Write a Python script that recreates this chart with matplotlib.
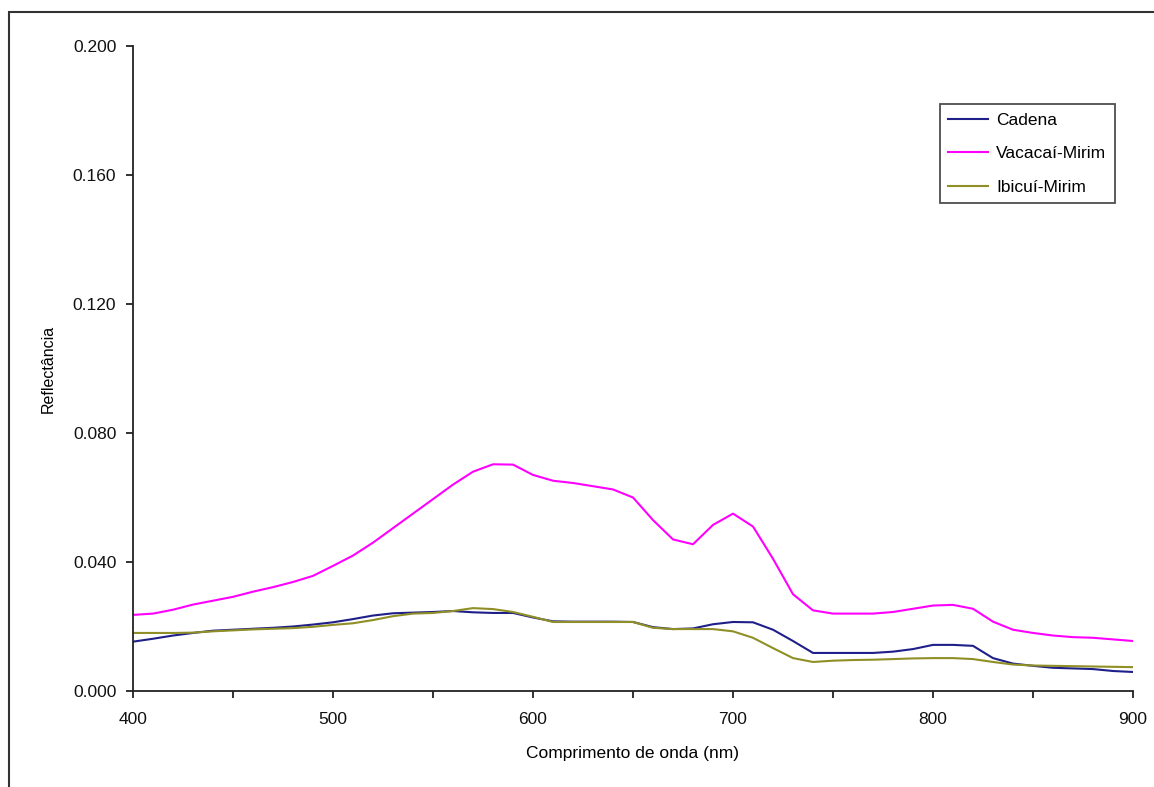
import matplotlib
matplotlib.use("Agg")
import matplotlib.pyplot as plt
from matplotlib.patches import Rectangle

wavelength = [400, 410, 420, 430, 440, 450, 460, 470, 480, 490,
              500, 510, 520, 530, 540, 550, 560, 570, 580, 590,
              600, 610, 620, 630, 640, 650, 660, 670, 680, 690,
              700, 710, 720, 730, 740, 750, 760, 770, 780, 790,
              800, 810, 820, 830, 840, 850, 860, 870, 880, 890, 900]

cadena = [0.0153, 0.0162, 0.0172, 0.0180, 0.0187, 0.0190, 0.0193, 0.0196, 0.0200, 0.0206,
          0.0213, 0.0223, 0.0234, 0.0241, 0.0243, 0.0245, 0.0248, 0.0244, 0.0242, 0.0242,
          0.0228, 0.0216, 0.0215, 0.0215, 0.0215, 0.0214, 0.0198, 0.0192, 0.0194, 0.0207,
          0.0214, 0.0213, 0.0190, 0.0155, 0.0118, 0.0118, 0.0118, 0.0118, 0.0122, 0.0130,
          0.0143, 0.0143, 0.0140, 0.0102, 0.0085, 0.0078, 0.0072, 0.0070, 0.0068, 0.0062, 0.0059]

vacacai_mirim = [0.0236, 0.0240, 0.0252, 0.0268, 0.0280, 0.0292, 0.0308, 0.0322, 0.0338, 0.0357,
                 0.0388, 0.0420, 0.0460, 0.0505, 0.0550, 0.0595, 0.0640, 0.0680, 0.0703, 0.0702,
                 0.0670, 0.0652, 0.0645, 0.0635, 0.0625, 0.0600, 0.0530, 0.0470, 0.0455, 0.0515,
                 0.0550, 0.0510, 0.0410, 0.0300, 0.0250, 0.0240, 0.0240, 0.0240, 0.0245, 0.0255,
                 0.0265, 0.0267, 0.0255, 0.0215, 0.0190, 0.0180, 0.0172, 0.0167, 0.0165, 0.0160, 0.0155]

ibicui_mirim = [0.0180, 0.0180, 0.0180, 0.0181, 0.0185, 0.0188, 0.0191, 0.0193, 0.0195, 0.0199,
                0.0205, 0.0210, 0.0220, 0.0232, 0.0240, 0.0242, 0.0248, 0.0257, 0.0254, 0.0245,
                0.0230, 0.0214, 0.0214, 0.0214, 0.0214, 0.0214, 0.0196, 0.0192, 0.0192, 0.0192,
                0.0185, 0.0165, 0.0133, 0.0102, 0.0090, 0.0094, 0.0096, 0.0097, 0.0099, 0.0101,
                0.0102, 0.0102, 0.0099, 0.0090, 0.0082, 0.0079, 0.0078, 0.0077, 0.0076, 0.0075, 0.0074]

series_names = ["Cadena", "Vacacaí-Mirim", "Ibicuí-Mirim"]
series_colors = ["#1f1f8a", "#ff00ff", "#8f8f26"]

x_ticks = [400, 450, 500, 550, 600, 650, 700, 750, 800, 850, 900]
x_labels = ["400", "", "500", "", "600", "", "700", "", "800", "", "900"]
y_ticks = [0.0, 0.04, 0.08, 0.12, 0.16, 0.20]
y_labels = ["0.000", "0.040", "0.080", "0.120", "0.160", "0.200"]

plt.rcParams['font.family'] = ['Liberation Sans', 'DejaVu Sans']

fig = plt.figure(figsize=(11.54, 7.87), dpi=100)
fig.patch.set_facecolor("white")
# outer chart border
fig.add_artist(Rectangle((9 / 1154, -0.05), 1.2, 1 - 12 / 787 + 0.05,
                         transform=fig.transFigure, fill=False,
                         edgecolor="#333333", linewidth=1.5))

ax = fig.add_axes([133 / 1154, 1 - 691 / 787, 1000 / 1154, 645 / 787])
for name, vals, col in zip(series_names, [cadena, vacacai_mirim, ibicui_mirim], series_colors):
    ax.plot(wavelength, vals, color=col, linewidth=1.5, label=name)

ax.set_xlim(400, 900)
ax.set_ylim(0, 0.2)
ax.set_xticks(x_ticks)
ax.set_xticklabels(x_labels)
ax.set_yticks(y_ticks)
ax.set_yticklabels(y_labels)
ax.spines['top'].set_visible(False)
ax.spines['right'].set_visible(False)
for s in ['left', 'bottom']:
    ax.spines[s].set_linewidth(1.3)
    ax.spines[s].set_color("#222222")
ax.tick_params(axis='both', direction='out', length=5, width=1.3, colors="#222222",
               labelsize=12.5, labelcolor="#111111")
ax.tick_params(axis='x', pad=10)
ax.tick_params(axis='y', pad=7)
ax.set_xlabel("Comprimento de onda (nm)", fontsize=12.5, labelpad=14)
ax.set_ylabel("Reflectância", fontsize=11.5, labelpad=12)

leg = ax.legend(loc='upper right', bbox_to_anchor=(982 / 1000, 1 - (104 - 46) / 645),
                frameon=True, fancybox=False, fontsize=12.5, handlelength=2.3,
                borderpad=0.5, labelspacing=1.05, handletextpad=0.45, borderaxespad=0)
leg.get_frame().set_edgecolor("#222222")
leg.get_frame().set_linewidth(1.3)

fig.savefig("out.png", dpi=100)
